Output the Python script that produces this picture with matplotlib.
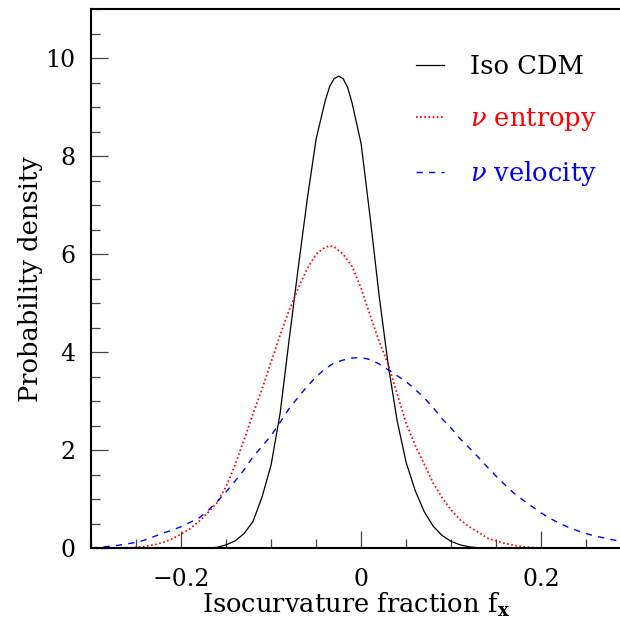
import matplotlib
matplotlib.use("Agg")
import matplotlib.pyplot as plt
from matplotlib.ticker import MultipleLocator, FixedLocator

plt.rcParams['font.family'] = ['DejaVu Serif']
plt.rcParams['mathtext.fontset'] = 'dejavuserif'

# Posterior densities of the isocurvature fraction f_x
fx_cdm = [-0.17, -0.16, -0.15, -0.14, -0.13, -0.12, -0.11, -0.10, -0.09, -0.08,
          -0.07, -0.06, -0.05, -0.04, -0.035, -0.03, -0.025, -0.02, -0.015, -0.01,
          0.00, 0.01, 0.02, 0.03, 0.04, 0.05, 0.06, 0.07, 0.08, 0.09,
          0.10, 0.11, 0.12, 0.13, 0.14]
p_cdm = [0.00, 0.02, 0.07, 0.15, 0.30, 0.55, 1.05, 1.70, 2.75, 4.25,
         5.70, 7.10, 8.35, 9.12, 9.42, 9.58, 9.63, 9.58, 9.40, 9.08,
         8.25, 6.75, 5.15, 3.75, 2.60, 1.75, 1.18, 0.75, 0.45, 0.26,
         0.14, 0.07, 0.03, 0.01, 0.00]

fx_ent = [-0.27, -0.26, -0.25, -0.24, -0.23, -0.22, -0.21, -0.20, -0.19, -0.18,
          -0.17, -0.16, -0.15, -0.14, -0.13, -0.12, -0.11, -0.10, -0.09, -0.08,
          -0.07, -0.06, -0.05, -0.04, -0.035, -0.03, -0.02, -0.01, 0.00, 0.01,
          0.02, 0.03, 0.04, 0.05, 0.06, 0.07, 0.08, 0.09, 0.10, 0.11,
          0.12, 0.13, 0.14, 0.15, 0.16, 0.17, 0.18, 0.19, 0.20, 0.21, 0.22]
p_ent = [0.00, 0.00, 0.02, 0.04, 0.07, 0.12, 0.19, 0.29, 0.40, 0.55,
         0.73, 0.93, 1.26, 1.70, 2.21, 2.75, 3.25, 3.80, 4.35, 4.85,
         5.30, 5.70, 6.00, 6.14, 6.17, 6.15, 6.00, 5.75, 5.30, 4.75,
         4.22, 3.75, 3.15, 2.55, 2.10, 1.72, 1.33, 1.03, 0.78, 0.58,
         0.44, 0.33, 0.21, 0.15, 0.10, 0.06, 0.03, 0.015, 0.005, 0.00, 0.00]

fx_vel = [-0.30, -0.29, -0.28, -0.27, -0.26, -0.25, -0.24, -0.23, -0.22, -0.21,
          -0.20, -0.19, -0.18, -0.17, -0.16, -0.15, -0.14, -0.13, -0.12, -0.11,
          -0.10, -0.09, -0.08, -0.07, -0.06, -0.05, -0.04, -0.03, -0.02, -0.01,
          0.00, 0.01, 0.02, 0.03, 0.04, 0.05, 0.06, 0.07, 0.08, 0.09,
          0.10, 0.11, 0.12, 0.13, 0.14, 0.15, 0.16, 0.17, 0.18, 0.19,
          0.20, 0.21, 0.22, 0.23, 0.24, 0.25, 0.26, 0.27, 0.28, 0.29]
p_vel = [0.01, 0.02, 0.04, 0.06, 0.09, 0.12, 0.17, 0.24, 0.31, 0.37,
         0.44, 0.53, 0.62, 0.77, 0.95, 1.15, 1.37, 1.60, 1.87, 2.08,
         2.30, 2.57, 2.85, 3.08, 3.30, 3.50, 3.66, 3.78, 3.84, 3.88,
         3.89, 3.85, 3.76, 3.64, 3.52, 3.40, 3.24, 3.07, 2.87, 2.64,
         2.45, 2.23, 2.05, 1.86, 1.66, 1.47, 1.29, 1.12, 0.98, 0.85,
         0.72, 0.61, 0.51, 0.43, 0.36, 0.30, 0.25, 0.21, 0.17, 0.14]

series_labels = ['Iso CDM', r'$\nu$ entropy', r'$\nu$ velocity']
x_ticks = [-0.2, 0.0, 0.2]
x_ticklabels = ['\u22120.2', '0', '0.2']
y_ticks = [0, 2, 4, 6, 8, 10]

fig = plt.figure(figsize=(6.2, 6.22), dpi=100)
ax = fig.add_axes([0.1468, 0.1185, 0.8532, 0.867])

ax.plot(fx_cdm, p_cdm, color='black', lw=0.9, label=series_labels[0])
ax.plot(fx_ent, p_ent, color='red', lw=1.3, linestyle=(0, (0.9, 1.4)),
        label=series_labels[1])
ax.plot(fx_vel, p_vel, color='blue', lw=1.0, linestyle=(0, (4.5, 4.5)),
        label=series_labels[2])

ax.set_xlim(-0.3, 0.2875)
ax.set_ylim(0, 11)

ax.xaxis.set_major_locator(FixedLocator(x_ticks))
ax.set_xticklabels(x_ticklabels)
ax.xaxis.set_minor_locator(MultipleLocator(0.05))
ax.yaxis.set_major_locator(FixedLocator(y_ticks))
ax.yaxis.set_minor_locator(MultipleLocator(0.5))

ax.tick_params(which='both', direction='in', top=False, right=False,
               labelsize=17, color='#444444', width=0.9)
ax.tick_params(which='major', length=12)
ax.tick_params(which='minor', length=6.5)
ax.tick_params(axis='x', which='major', pad=14)
ax.tick_params(axis='y', which='major', pad=11)

for side in ('left', 'bottom', 'top'):
    ax.spines[side].set_linewidth(1.5)
ax.spines['right'].set_visible(False)

ax.set_xlabel(r'Isocurvature fraction f$_\mathbf{x}$', fontsize=18.5, labelpad=0)
ax.set_ylabel('Probability density', fontsize=18.5, labelpad=2)

leg = ax.legend(loc='upper left', bbox_to_anchor=(0.594, 0.935), frameon=False,
                fontsize=18.5, handlelength=1.09, handletextpad=1.05,
                labelspacing=1.02, labelcolor='linecolor', borderaxespad=0)

fig.savefig('out.png', dpi=100)
